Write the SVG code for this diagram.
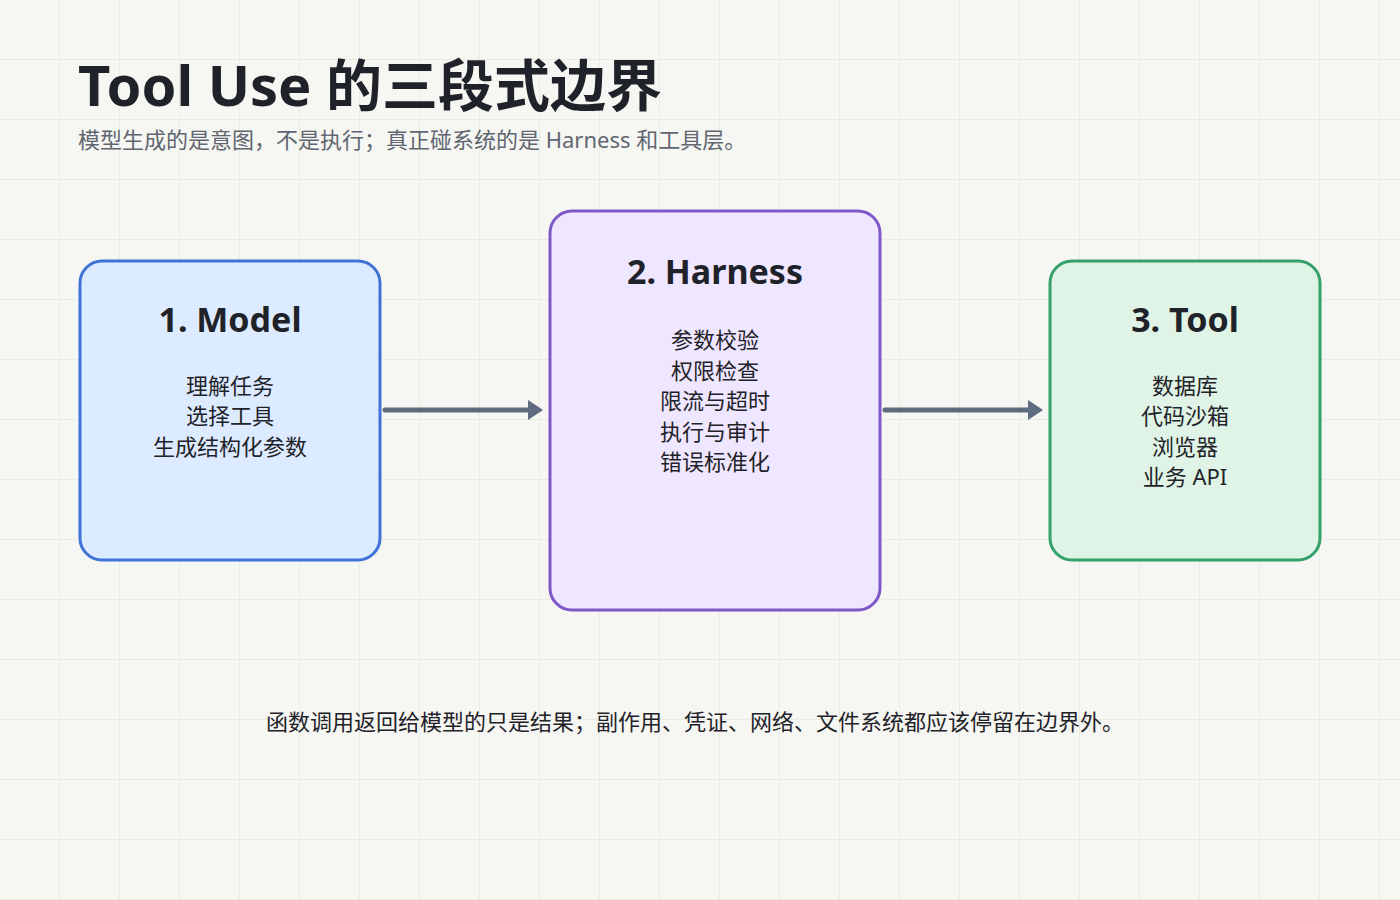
<svg xmlns="http://www.w3.org/2000/svg" width="1400" height="900" viewBox="0 0 1400 900">
<defs>
<pattern id="grid" width="60" height="60" patternUnits="userSpaceOnUse"><path d="M60 0V60H0" fill="none" stroke="#e6e8dc" stroke-width="1.5"/></pattern>
<marker id="ah" markerWidth="4" markerHeight="4" refX="2" refY="2" orient="auto" markerUnits="strokeWidth"><path d="M0,0L3,2L0,4z" fill="#5f6b7e"/></marker>
<style>
text{font-family:"Noto Sans","Noto Sans CJK SC",sans-serif;text-anchor:middle}
.t{font-size:34px;font-weight:700;fill:#1f2329}
.b{font-size:22px;fill:#1f2329}
.c{stroke:#5f6b7e;stroke-width:5;stroke-linecap:round;fill:none;marker-end:url(#ah)}
</style>
</defs>
<rect width="1400" height="900" fill="#f6f6f3"/>
<rect width="1400" height="900" fill="url(#grid)"/>
<text x="78" y="106" style="text-anchor:start;font-size:56px;font-weight:700;fill:#1f2329">Tool Use 的三段式边界</text>
<text x="78" y="148" style="text-anchor:start;font-size:22px;fill:#5f6670">模型生成的是意图，不是执行；真正碰系统的是 Harness 和工具层。</text>
<g id="connectors">
<line class="c" x1="385" y1="410" x2="538" y2="410"/>
<line class="c" x1="885" y1="410" x2="1038" y2="410"/>
</g>
<g id="model">
<rect x="80" y="261" width="300" height="299" rx="22" fill="#dcebff" stroke="#3f74d6" stroke-width="3"/>
<text class="t" x="230" y="332">1. Model</text>
<text class="b" x="230" y="394">理解任务</text>
<text class="b" x="230" y="424">选择工具</text>
<text class="b" x="230" y="455">生成结构化参数</text>
</g>
<g id="harness">
<rect x="550" y="211" width="330" height="399" rx="22" fill="#efe6ff" stroke="#7f58c8" stroke-width="3"/>
<text class="t" x="715" y="284">2. Harness</text>
<text class="b" x="715" y="348">参数校验</text>
<text class="b" x="715" y="379">权限检查</text>
<text class="b" x="715" y="409">限流与超时</text>
<text class="b" x="715" y="440">执行与审计</text>
<text class="b" x="715" y="470">错误标准化</text>
</g>
<g id="tool">
<rect x="1050" y="261" width="270" height="299" rx="22" fill="#dff3e6" stroke="#34a06a" stroke-width="3"/>
<text class="t" x="1185" y="332">3. Tool</text>
<text class="b" x="1185" y="394">数据库</text>
<text class="b" x="1185" y="424">代码沙箱</text>
<text class="b" x="1185" y="455">浏览器</text>
<text class="b" x="1185" y="485">业务 API</text>
</g>
<text class="b" x="695" y="730">函数调用返回给模型的只是结果；副作用、凭证、网络、文件系统都应该停留在边界外。</text>
</svg>
